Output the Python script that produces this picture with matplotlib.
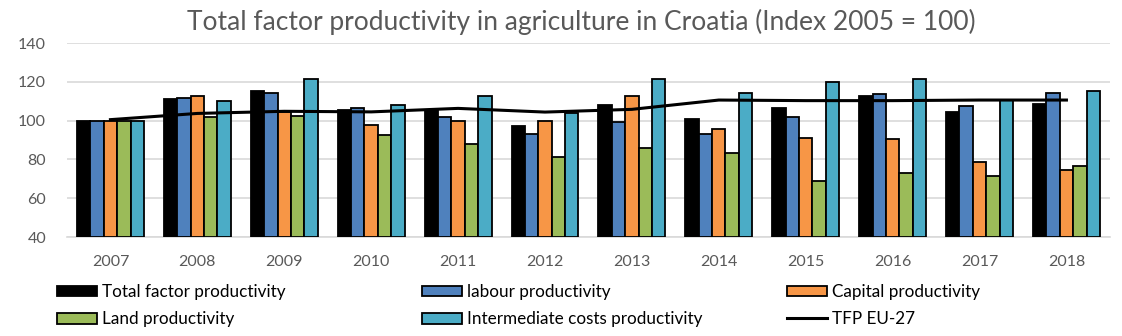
import numpy as np
import matplotlib.pyplot as plt
from matplotlib.patches import Patch
from matplotlib.lines import Line2D

years = ["2007", "2008", "2009", "2010", "2011", "2012",
         "2013", "2014", "2015", "2016", "2017", "2018"]
tfp = [100, 111, 115.1, 105.5, 105.5, 97.2, 108, 100.8, 106.5, 112.7, 104.6, 108.6]
labour = [100, 111.8, 114.4, 106.7, 102, 93.3, 99.5, 93.3, 102, 113.5, 107.7, 114]
capital = [100, 112.7, 104.6, 97.7, 99.6, 100, 112.7, 95.8, 91.2, 90.4, 78.8, 74.5]
land = [100, 101.7, 102.4, 92.6, 88, 81.4, 86, 83.5, 68.9, 73.2, 71.6, 76.8]
intermediate = [100, 110.3, 121.4, 108.2, 112.9, 103.7, 121.4, 114.4, 120.1, 121.4, 110.6, 115.4]
tfp_eu27 = [100.5, 103.7, 104.8, 104.5, 106.3, 104.4, 105.8, 110.6, 110.3, 110.3, 110.6, 110.6]

series = [
    ("Total factor productivity", tfp, "#000000"),
    ("labour productivity", labour, "#4F81BD"),
    ("Capital productivity", capital, "#F79646"),
    ("Land productivity", land, "#9BBB59"),
    ("Intermediate costs productivity", intermediate, "#4BACC6"),
]

plt.rcParams["font.family"] = ["Lato", "DejaVu Sans"]

fig = plt.figure(figsize=(11.22, 3.36), dpi=100)
ax = fig.add_axes([0.0597, 0.2946, 0.9295, 0.5774])

x = np.arange(len(years))
w = 0.154
for i, (name, vals, col) in enumerate(series):
    ax.bar(x + (i - 2) * w, np.array(vals) - 40, w, bottom=40, color=col,
           edgecolor="black", linewidth=1.3, zorder=3)
ax.plot(x, tfp_eu27, color="black", linewidth=2.2, zorder=4)

ax.set_xlim(-0.5, len(years) - 0.5)
ax.set_ylim(40, 140)
ax.set_yticks(range(40, 141, 20))
ax.set_xticks(x)
ax.set_xticklabels(years)
ax.tick_params(axis="both", length=0, labelsize=11.5, colors="#595959")
ax.tick_params(axis="x", pad=13)
ax.tick_params(axis="y", pad=15)
ax.grid(axis="y", color="#D9D9D9", linewidth=1.2, zorder=0)
for s in ["top", "right", "left"]:
    ax.spines[s].set_visible(False)
ax.spines["bottom"].set_color("#D9D9D9")
ax.spines["bottom"].set_linewidth(1.2)

fig.text(581 / 1122, 1 - 22 / 336, "Total factor productivity in agriculture in Croatia (Index 2005 = 100)",
         ha="center", va="center", fontsize=19, color="#595959")

handles = [Patch(facecolor=c, edgecolor="black", linewidth=1.3, label=n) for n, _, c in series]
handles.append(Line2D([], [], color="black", linewidth=2.2, label="TFP EU-27"))
cols = [(handles[0], handles[3]), (handles[1], handles[4]), (handles[2], handles[5])]
xpos = [57, 422, 787]
for (h1, h2), xp in zip(cols, xpos):
    fig.legend(handles=[h1, h2], loc="upper left", bbox_to_anchor=(xp / 1122, 1 - 284 / 336),
               frameon=False, fontsize=12.3, handlelength=2.35, handleheight=0.6,
               handletextpad=0.3, labelspacing=0.65, borderaxespad=0, borderpad=0)

fig.savefig("out.png", dpi=100)
